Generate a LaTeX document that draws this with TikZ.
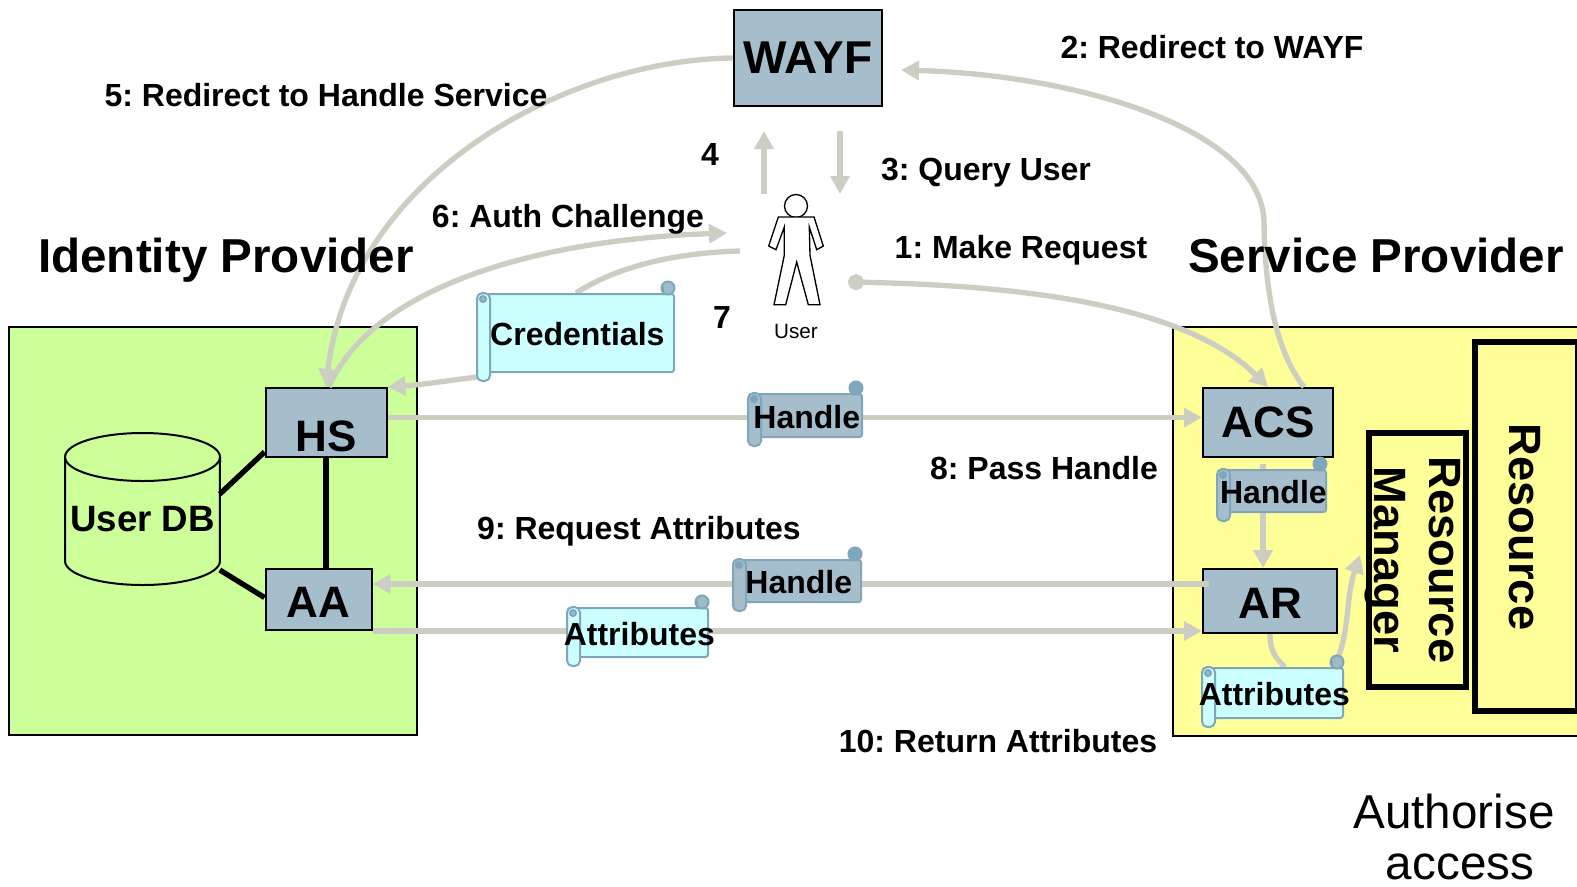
\documentclass[tikz,border=0pt]{standalone}
\usepackage{fontspec}
\setmainfont{Liberation Sans}
\usetikzlibrary{arrows.meta}
\definecolor{flowgrey}{HTML}{CCCEC2}
\definecolor{boxblue}{HTML}{A6BDCC}
\definecolor{scrollblue}{HTML}{7FA6BD}
\definecolor{curlblue}{HTML}{9DBCC5}
\definecolor{paleblue}{HTML}{CCFFFF}
\definecolor{idpgreen}{HTML}{CCFF99}
\definecolor{spyellow}{HTML}{FFFF99}
\def\px{0.75pt}
\pgfdeclarelayer{boxes}
\pgfdeclarelayer{links}
\pgfsetlayers{boxes,links,main}
\tikzset{
  flow/.style={draw=flowgrey,line width=4pt},
  flowarrow/.style={flow,-{Triangle[length=13.5pt,width=14pt]}},
  link/.style={draw=black,line width=4pt},
  region/.style={draw=black,line width=1.5pt,inner sep=0pt},
  boxnode/.style={draw=black,fill=boxblue,line width=1.5pt,inner sep=0pt,font=\bfseries\fontsize{33}{36}\selectfont},
  rmbox/.style={draw=black,fill=spyellow,line width=4pt,inner sep=0pt},
  steplabel/.style={font=\frenchspacing\bfseries\fontsize{24}{28}\selectfont},
  titlelabel/.style={font=\bfseries\fontsize{35.7}{40}\selectfont},
  rmlabel/.style={font=\bfseries\fontsize{34}{41.5}\selectfont,align=center,rotate=-90},
  scrollbody/.style={draw=scrollblue,line width=1.5pt,rounded corners=2pt,inner sep=0pt},
  scrolltext/.style={inner sep=0pt,yshift=-1pt,xshift=1pt,font=\bfseries\fontsize{24}{28}\selectfont},
  scrollline/.style={draw=scrollblue,line width=1.5pt}
}
\newcommand{\scrollnode}[8]{%
  \node[scrollbody,fill=#6,minimum width=#4*\px,minimum height=#5*\px] (#1) at (#2,#3) {};
  \draw[scrollline,fill=#6,rounded corners=4pt] (#1.north west) rectangle ([xshift=13*\px,yshift=-8*\px]#1.south west);
  \draw[scrollline,fill=#7] ([xshift=6*\px,yshift=-6*\px]#1.north west) circle (3*\px);
  \draw[scrollline,fill=#7] ([xshift=-7*\px,yshift=5*\px]#1.north east) circle (6.5*\px);
  \draw[scrollline] ([xshift=-12*\px]#1.north east) -- ++(0,6*\px);
  \node[scrolltext] (#1text) at (#1.center) {#8};
}
\begin{document}
\begin{tikzpicture}[x=0.75pt,y=-0.75pt]
  \useasboundingbox (0,0) rectangle (1577,886);
  \begin{pgfonlayer}{boxes}
    \node[region,fill=idpgreen,minimum width=408*\px,minimum height=408*\px] (idp) at (212.5,531) {};
    \node[region,fill=spyellow,minimum width=406*\px,minimum height=409*\px] (sp) at (1376,531.5) {};
    \node[rmbox,minimum width=103*\px,minimum height=369*\px] (res) at (1526.5,526.5) {};
    \node[rmbox,minimum width=97*\px,minimum height=254*\px] (rm) at (1417.5,560) {};
    \node[boxnode,font=\bfseries\fontsize{34.5}{36}\selectfont,minimum width=148*\px,minimum height=96*\px] (wayf) at (808,58) {WAYF};
    \node[boxnode,minimum width=121*\px,minimum height=69*\px] (hs) at (326,422.5) {\raisebox{-22pt}[0pt][0pt]{HS}};
    \node[boxnode,minimum width=106*\px,minimum height=61*\px] (aa) at (318.5,599.5) {\raisebox{-13.5pt}[0pt][0pt]{AA}};
    \node[boxnode,minimum width=130*\px,minimum height=69*\px] (acs) at (1268,422.5) {ACS};
    \node[boxnode,minimum width=134*\px,minimum height=64*\px] (ar) at (1270,601) {\raisebox{-13pt}[0pt][0pt]{AR}};
    \draw[draw=black,line width=1.5pt] (142.5,457) ellipse (58.1pt and 18pt);
    \draw[draw=black,line width=1.5pt] (65,457) -- (65,561) arc (180:360:58.1pt and 18pt) -- (220,457);
  \end{pgfonlayer}
  \node[inner sep=0pt,font=\bfseries\fontsize{27.5}{30}\selectfont] (db) at (142.5,519) {User DB};
  \scrollnode{handleone}{805.5}{415.5}{113}{43}{boxblue}{scrollblue}{Handle}
  \scrollnode{handletwo}{1272}{491}{108}{42}{boxblue}{scrollblue}{Handle}
  \scrollnode{handlethree}{797.5}{581}{127}{42}{boxblue}{scrollblue}{Handle}
  \scrollnode{cred}{576}{333}{196}{78}{paleblue}{curlblue}{Credentials}
  \scrollnode{attrone}{638}{632.5}{140}{49}{paleblue}{curlblue}{Attributes}
  \scrollnode{attrtwo}{1273}{693}{140}{50}{paleblue}{curlblue}{Attributes}
  \coordinate (askup) at (764,194);
  \coordinate (askupend) at (764,131);
  \coordinate (askdown) at (840,131);
  \coordinate (askdownend) at (840,194);
  \coordinate (challengeend) at (727,233);
  \coordinate (credfrom) at (740,251);
  \coordinate (requestfrom) at (848,282);
  \coordinate (wayfin) at (901,70);
  \coordinate (rmin) at (1360,555);
  \coordinate (acsout) at (1263,464);
  \coordinate (arout) at (1209,584);
  \begin{pgfonlayer}{links}
    \draw[link] ([yshift=6*\px]hs.south west) -- ([shift={(58pt,18.75pt)}]db.center);
    \draw[link] (hs.south) -- (hs.south |- aa.north);
    \draw[link] ([yshift=2*\px]aa.west) -- ([shift={(58pt,-38.25pt)}]db.center);
    \draw[flowarrow] (wayf.west) .. controls (560,60) and (350,180) .. (hs.north);
    \draw[flowarrow] ([xshift=3*\px]hs.north) .. controls (370,290) and (530,240) .. (challengeend);
    \draw[flow] (credfrom) .. controls (670,253) and (615,268) .. (cred.north);
    \draw[flowarrow] ([yshift=-4*\px]cred.south west) .. controls (445,381) and (420,385) .. (hs.north east);
    \draw[flow,{Circle[length=12pt]}-{Triangle[length=13.5pt,width=14pt]}] (requestfrom) .. controls (1000,285) and (1180,300) .. (acs.north);
    \draw[flowarrow] ([xshift=36*\px]acs.north) .. controls (1275,350) and (1265,290) .. (1264,222) .. controls (1262,130) and (1080,75) .. (wayfin);
    \draw[flowarrow] (askup) -- (askupend);
    \draw[flowarrow] (askdown) -- (askdownend);
    \draw[flowarrow] ([yshift=5*\px]hs.east) -- ([yshift=5*\px]acs.west);
    \draw[flowarrow] (arout) -- (arout -| aa.east);
    \draw[flowarrow] (aa.south east) -- (aa.south east -| ar.west);
    \draw[flowarrow] (acsout) -- (acsout |- ar.north);
    \draw[flow] (ar.south) .. controls (1270,650) and (1275,658) .. ([xshift=12*\px]attrtwo.north);
    \draw[flowarrow] ([xshift=-11*\px]attrtwo.north east) .. controls (1350,640) and (1345,600) .. (rmin);
  \end{pgfonlayer}
  \begin{scope}[shift={(796,206)}]
    \draw[line width=1pt,fill=white] (0,0) circle (11.5);
    \draw[line width=1pt,fill=white] (-17.7,11) -- (18,11) -- (27.3,40) -- (20.7,43.7) -- (13.3,21) -- (14,49.3) -- (24,98.7) -- (12.3,98.7) -- (0.7,56) -- (-10.3,98.7) -- (-22,98.7) -- (-11.7,49.3) -- (-11.7,21) -- (-20,43.7) -- (-27.3,40) -- cycle;
  \end{scope}
  \node[font=\fontsize{15.5}{18}\selectfont] (user) at (796,331) {User};
  \node[titlelabel] (idptitle) at (226,260) {Identity Provider};
  \node[titlelabel] (sptitle) at (1376,255) {Service Provider};
  \node[steplabel] (stepfive) at (326,95) {5: Redirect to Handle Service};
  \node[steplabel] (steptwo) at (1212,47) {2: Redirect to WAYF};
  \node[steplabel] (stepthree) at (986,173) {3: Query User};
  \node[steplabel] (stepfour) at (710,154) {4};
  \node[steplabel] (stepsix) at (568,219) {6: Auth Challenge};
  \node[steplabel] (stepone) at (1021,250) {1: Make Request};
  \node[steplabel] (stepseven) at (722,317) {7};
  \node[steplabel] (stepeight) at (1044,468) {8: Pass Handle};
  \node[steplabel] (stepnine) at (639,531) {9: Request Attributes};
  \node[steplabel] (stepten) at (998,741) {10: Return Attributes};
  \node[rmlabel] (rmtext) at (1413,560) {Resource\\Manager};
  \node[rmlabel] (restext) at (1525,527) {Resource};
  \node[inner sep=0pt,font=\fontsize{35.7}{38}\selectfont,align=center] (authorise) at (1454,837) {Authorise\\\hspace*{9pt}access};
\end{tikzpicture}
\end{document}
